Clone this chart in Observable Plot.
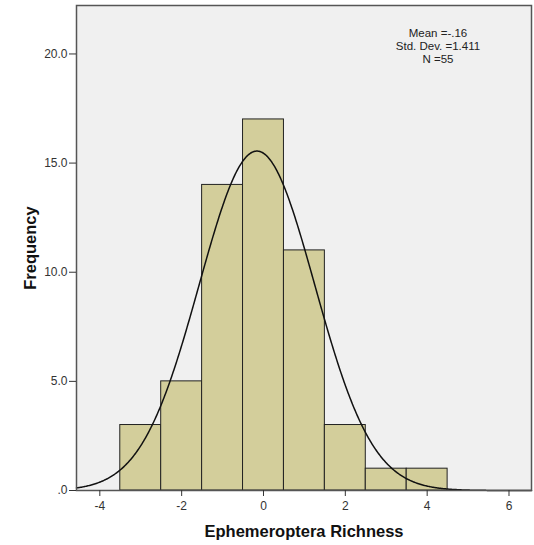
<!DOCTYPE html>
<html>
<head>
<meta charset="utf-8">
<script src="https://cdn.jsdelivr.net/npm/d3@7"></script>
<script src="https://cdn.jsdelivr.net/npm/@observablehq/plot@0.6"></script>
<style>
  html, body { margin: 0; padding: 0; background: #fff; }
  svg { display: block; }
</style>
</head>
<body>
<div id="chart"></div>
<script>
// Histogram bins (bin width 1)
const binCenters = [-3, -2, -1, 0, 1, 2, 3, 4];
const binCounts = [3, 5, 14, 17, 11, 3, 1, 1];
const binWidth = 1;
// Summary statistics shown on the chart
const statMean = -0.16;
const statSd = 1.411;
const statN = 55;
// Tick values
const xTicks = [-4, -2, 0, 2, 4, 6];
const yTicks = [0, 5, 10, 15, 20];

const bins = binCenters.map((c, i) => ({x1: c - binWidth / 2, x2: c + binWidth / 2, count: binCounts[i]}));

const xDomain = [-4.57, 6.55];
const yDomain = [0, 22.22];

// Fitted normal curve from the displayed mean / sd / N
const curve = d3.range(xDomain[0], xDomain[1] + 0.001, 0.02).map(x => ({
  x,
  y: statN * binWidth / (statSd * Math.sqrt(2 * Math.PI)) * Math.exp(-0.5 * ((x - statMean) / statSd) ** 2)
}));

const fmtY = d => d === 0 ? ".0" : d3.format(".1f")(d);

const chart = Plot.plot({
  width: 534,
  height: 545,
  marginLeft: 76,
  marginRight: 3,
  marginTop: 5,
  marginBottom: 55,
  style: {fontFamily: "'Liberation Sans', Arial, sans-serif", fontSize: "12px", color: "#333", background: "#fff"},
  x: {domain: xDomain, label: null},
  y: {domain: yDomain, label: null},
  marks: [
    Plot.frame({fill: "#f0f0f0", stroke: null}),
    Plot.rectY(bins, {x1: "x1", x2: "x2", y: "count", fill: "#d3ce9b", stroke: "#222", strokeWidth: 1}),
    Plot.line(curve, {x: "x", y: "y", stroke: "#111", strokeWidth: 1.5, curve: "linear"}),
    Plot.frame({stroke: "#555", strokeWidth: 1.5}),
    Plot.axisX({ticks: xTicks, tickSize: 6, tickPadding: 5, tickFormat: d => String(d), stroke: "#333", fill: "#333", fontSize: 12, label: null}),
    Plot.axisY({ticks: yTicks, tickSize: 7, tickPadding: 2, tickFormat: fmtY, stroke: "#333", fill: "#333", fontSize: 12, label: null}),
    Plot.text([`Mean =${statMean.toString().replace("0.", ".")}\nStd. Dev. =${statSd}\nN =${statN}`], {
      frameAnchor: "top", dx: 134, dy: 23, lineAnchor: "top", textAnchor: "middle",
      lineHeight: 1.1, fontSize: 11.5, fill: "#222"
    }),
    Plot.text(["Ephemeroptera Richness"], {
      frameAnchor: "bottom", dy: 46, textAnchor: "middle", fontSize: 16.5, fontWeight: "bold", fill: "#111"
    }),
    Plot.text(["Frequency"], {
      frameAnchor: "left", dx: -46, rotate: -90, textAnchor: "middle", fontSize: 16.5, fontWeight: "bold", fill: "#111"
    })
  ]
});
document.getElementById("chart").appendChild(chart);
</script>
</body>
</html>
